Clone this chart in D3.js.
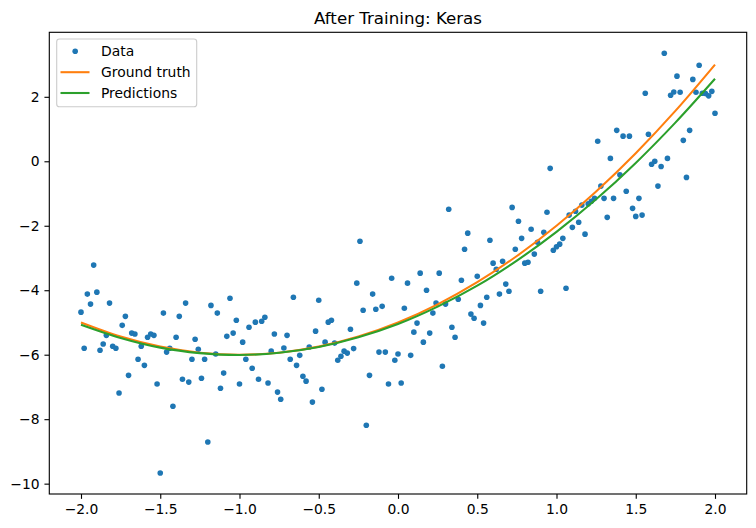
<!DOCTYPE html>
<html>
<head>
<meta charset="utf-8">
<script src="https://cdn.jsdelivr.net/npm/d3@7"></script>
<style>
  html, body { margin: 0; padding: 0; background: #fff; }
  svg { display: block; font-family: "DejaVu Sans", sans-serif; }
</style>
</head>
<body>
<svg id="chart" width="756" height="528"></svg>
<script>
// ---- data ----
const titleText = "After Training: Keras";
const seriesNames = ["Data", "Ground truth", "Predictions"];
const seriesColors = ["#1f77b4", "#ff7f0e", "#2ca02c"];

const dataPoints = [
  [0.96,-0.22],
  [1.68,3.35],[1.90,2.98],[1.76,2.64],[1.86,2.54],[1.56,2.11],[1.72,2.05],[1.74,2.15],[1.78,2.14],[1.88,2.14],[1.92,2.11],[1.94,2.10],[1.96,2.03],[1.98,2.17],[2.00,1.49],[1.38,0.96],[1.42,0.78],[1.46,0.78],[1.26,0.62],[1.58,0.84],[1.84,0.96],[1.80,0.65],[1.34,0.09],[1.70,0.09],[1.60,-0.09],[1.62,0.00],[1.66,-0.16],[1.40,-0.42],[1.82,-0.50],[1.64,-0.77],[1.28,-0.77],
  [1.30,-1.15],[1.36,-1.15],[1.44,-0.93],[1.52,-1.15],[1.48,-1.46],[1.50,-1.71],[1.54,-1.67],[1.32,-1.74],[1.24,-1.15],[1.22,-1.24],[1.20,-1.32],[1.16,-1.36],[1.12,-1.55],[1.08,-1.67],[1.14,-1.89],[1.10,-2.05],[1.18,-2.26],[1.04,-2.39],[1.02,-2.57],[1.00,-2.65],[1.06,-3.94],
  [0.32,-1.49],[0.72,-1.43],[0.94,-1.58],[0.76,-1.86],[0.84,-2.11],[0.92,-2.20],[0.44,-2.23],[0.78,-2.39],[0.58,-2.45],[0.88,-2.51],[0.42,-2.73],[0.74,-2.73],[0.98,-2.76],[0.86,-2.88],[0.60,-3.16],[0.66,-3.10],[0.80,-3.16],[0.82,-3.13],[0.62,-3.35],[-0.04,-3.63],[0.14,-3.47],[0.26,-3.47],[0.40,-3.69],[0.50,-3.57],[0.06,-3.78],[0.68,-3.81],[0.18,-4.00],[0.64,-4.12],[0.70,-4.03],[0.90,-4.03],[0.56,-4.22],[0.38,-4.28],[0.24,-4.40],[0.30,-4.43],[0.52,-4.47],[0.04,-4.56],[0.22,-4.71],[0.46,-4.74],[0.48,-4.87],[0.12,-5.02],[0.54,-5.02],[0.10,-5.30],[0.20,-5.33],[0.34,-5.15],[0.36,-5.46],[0.16,-5.61],
  [-0.08,-5.92],[0.00,-5.98],[-0.02,-6.17],[0.08,-6.02],[0.28,-6.36],[-0.06,-6.91],[0.02,-6.88],
  [-0.24,-2.48],[-0.26,-3.78],[-0.16,-4.12],[-1.06,-4.25],[-0.66,-4.22],[-0.50,-4.31],[-0.22,-4.62],[-0.14,-4.59],[-0.10,-4.50],[-1.14,-4.71],[-1.02,-4.93],[-0.84,-4.84],[-0.86,-4.96],[-0.90,-4.99],[-0.94,-5.15],[-0.42,-4.93],[-0.44,-4.99],[-0.30,-5.21],[-0.52,-5.27],[-1.08,-5.43],[-1.04,-5.33],[-0.78,-5.36],[-0.70,-5.40],[-0.98,-5.61],[-0.46,-5.61],[-0.40,-5.64],[-0.72,-5.79],[-0.56,-5.76],[-0.28,-5.81],
  [-1.15,-5.98],[-0.80,-5.89],[-1.10,-6.57],[-1.12,-7.04],[-1.00,-6.91],[-0.96,-6.14],[-0.92,-6.42],[-0.88,-6.76],[-0.82,-6.88],[-0.76,-7.16],[-0.74,-7.38],[-0.68,-6.14],[-0.64,-6.33],[-0.62,-6.02],[-0.60,-6.67],[-0.58,-6.82],[-0.54,-7.47],[-0.48,-7.07],[-0.38,-6.17],[-0.36,-6.05],[-0.34,-5.89],[-0.32,-5.95],[-0.12,-5.92],[-0.18,-6.64],[-0.20,-8.19],
  [-1.92,-3.22],[-1.96,-4.12],[-1.90,-4.06],[-1.94,-4.43],[-2.00,-4.68],[-1.82,-4.40],[-1.72,-4.81],[-1.74,-5.09],[-1.68,-5.33],[-1.66,-5.36],[-1.84,-5.40],[-1.58,-5.46],[-1.56,-5.36],[-1.54,-5.40],[-1.48,-4.71],[-1.38,-4.81],[-1.34,-4.40],[-1.18,-4.47],[-1.40,-5.46],[-1.28,-5.52],[-1.86,-5.67],[-1.80,-5.74],[-1.62,-5.74],[-1.98,-5.80],[-1.78,-5.80],[-1.44,-5.80],
  [-1.88,-5.86],[-1.46,-5.92],[-1.26,-5.83],[-1.64,-6.14],[-1.60,-6.33],[-1.30,-6.14],[-1.22,-6.14],[-1.70,-6.64],[-1.36,-6.76],[-1.32,-6.85],[-1.24,-6.73],[-1.52,-6.91],[-1.76,-7.19],[-1.42,-7.60],[-1.20,-8.71],[-1.50,-9.67]
];

const curveX = [-2,-1.75,-1.5,-1.25,-1,-0.75,-0.5,-0.25,0,0.25,0.5,0.75,1,1.25,1.5,1.75,2];
const groundTruthY = [-5,-5.4375,-5.75,-5.9375,-6,-5.9375,-5.75,-5.4375,-5,-4.4375,-3.75,-2.9375,-2,-0.9375,0.25,1.5625,3];
const predictionY = [-5.07,-5.48,-5.78,-5.95,-6.01,-5.94,-5.76,-5.46,-5.05,-4.51,-3.86,-3.08,-2.19,-1.18,-0.05,1.20,2.56];

const xTicks = [-2.0,-1.5,-1.0,-0.5,0.0,0.5,1.0,1.5,2.0];
const yTicks = [-10,-8,-6,-4,-2,0,2];

// ---- layout ----
const W = 756, H = 528;
const plot = { left: 49.3, top: 32.3, right: 746.7, bottom: 494 };
const pt = 100 / 72;

const svg = d3.select("#chart");
svg.append("rect").attr("width", W).attr("height", H).attr("fill", "#fff");

const allX = dataPoints.map(d => d[0]).concat(curveX);
const allY = dataPoints.map(d => d[1]).concat(groundTruthY, predictionY);
const [x0, x1] = d3.extent(allX);
const [y0, y1] = d3.extent(allY);
const xPad = (x1 - x0) * 0.05, yPad = (y1 - y0) * 0.05;

const x = d3.scaleLinear().domain([x0 - xPad, x1 + xPad]).range([plot.left, plot.right]);
const y = d3.scaleLinear().domain([y0 - yPad, y1 + yPad]).range([plot.bottom, plot.top]);

const fmtX = d3.format(".1f");
const fmtY = d3.format("d");

// axes
const tickLen = 3.5 * pt, tickPad = 3.5 * pt;
const gx = svg.append("g").attr("transform", `translate(0,${plot.bottom})`)
  .call(d3.axisBottom(x).tickValues(xTicks).tickFormat(fmtX).tickSize(tickLen).tickSizeOuter(0).tickPadding(tickPad));
const gy = svg.append("g").attr("transform", `translate(${plot.left},0)`)
  .call(d3.axisLeft(y).tickValues(yTicks).tickFormat(fmtY).tickSize(tickLen).tickSizeOuter(0).tickPadding(tickPad));
[gx, gy].forEach(g => {
  g.select(".domain").remove();
  g.selectAll(".tick line").attr("stroke", "#000").attr("stroke-width", 0.8 * pt);
  g.selectAll(".tick text").attr("fill", "#000").attr("font-size", 10 * pt).attr("font-family", "DejaVu Sans");
});

// clip
svg.append("clipPath").attr("id", "clip").append("rect")
  .attr("x", plot.left).attr("y", plot.top)
  .attr("width", plot.right - plot.left).attr("height", plot.bottom - plot.top);

const gPlot = svg.append("g").attr("clip-path", "url(#clip)");

// data points
gPlot.append("g").selectAll("circle").data(dataPoints).join("circle")
  .attr("cx", d => x(d[0])).attr("cy", d => y(d[1]))
  .attr("r", 2.8).attr("fill", seriesColors[0]);

const line = d3.line().x(d => x(d[0])).y(d => y(d[1])).curve(d3.curveCatmullRom.alpha(0.5));
gPlot.append("path").datum(curveX.map((v, i) => [v, groundTruthY[i]]))
  .attr("d", line).attr("fill", "none").attr("stroke", seriesColors[1]).attr("stroke-width", 1.5 * pt);
gPlot.append("path").datum(curveX.map((v, i) => [v, predictionY[i]]))
  .attr("d", line).attr("fill", "none").attr("stroke", seriesColors[2]).attr("stroke-width", 1.5 * pt);

// frame
svg.append("rect").attr("x", plot.left).attr("y", plot.top)
  .attr("width", plot.right - plot.left).attr("height", plot.bottom - plot.top)
  .attr("fill", "none").attr("stroke", "#000").attr("stroke-width", 0.8 * pt);

// title
svg.append("text").attr("x", (plot.left + plot.right) / 2).attr("y", plot.top - 6 * pt)
  .attr("text-anchor", "middle").attr("font-size", 12 * pt).attr("fill", "#000")
  .text(titleText);

// legend
const lg = svg.append("g");
lg.append("rect").attr("x", 56.7).attr("y", 39).attr("width", 140).attr("height", 67.7)
  .attr("rx", 2.8).attr("fill", "#fff").attr("fill-opacity", 0.8)
  .attr("stroke", "#cccccc").attr("stroke-width", 0.8 * pt);
const rowY = [51.3, 72.2, 93.0];
seriesNames.forEach((name, i) => {
  if (i === 0) {
    lg.append("circle").attr("cx", 75.2).attr("cy", rowY[i]).attr("r", 2.8).attr("fill", seriesColors[i]);
  } else {
    lg.append("line").attr("x1", 60.5).attr("x2", 89.5).attr("y1", rowY[i]).attr("y2", rowY[i])
      .attr("stroke", seriesColors[i]).attr("stroke-width", 1.5 * pt);
  }
  lg.append("text").attr("x", 101).attr("y", rowY[i]).attr("dy", "0.36em")
    .attr("font-size", 10 * pt).attr("fill", "#000").text(name);
});
</script>
</body>
</html>
